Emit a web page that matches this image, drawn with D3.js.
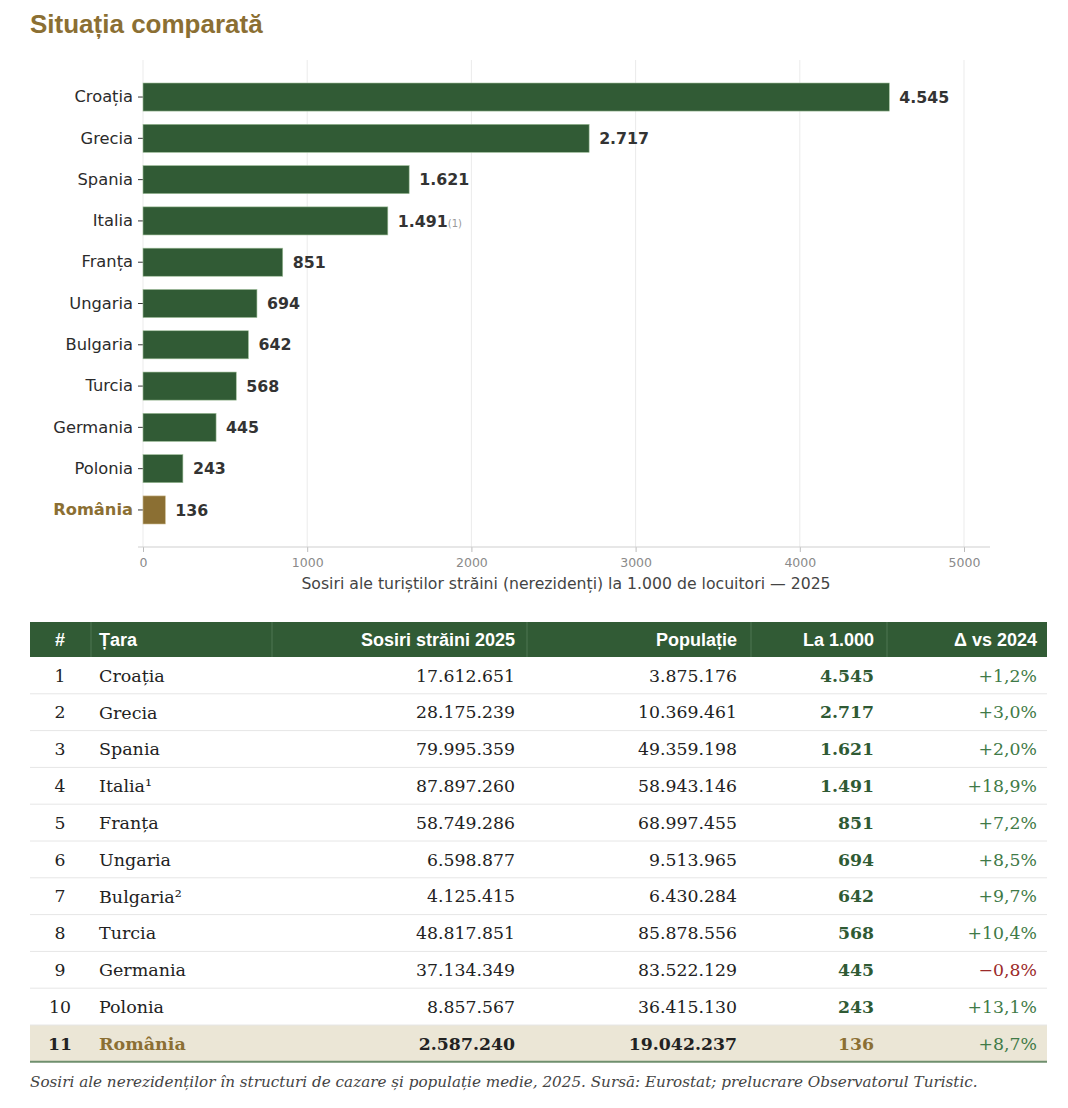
<!DOCTYPE html>
<html>
<head>
<meta charset="utf-8">
<script src="https://cdn.jsdelivr.net/npm/d3@7"></script>
<style>
  html, body { margin: 0; padding: 0; background: #fff; }
  svg { display: block; }
</style>
</head>
<body>
<svg id="chart" width="1068" height="1108"></svg>
<script>
// ---------- DATA ----------
const countries = ["Croația","Grecia","Spania","Italia","Franța","Ungaria","Bulgaria","Turcia","Germania","Polonia","România"];
const perThousand = [4545, 2717, 1621, 1491, 851, 694, 642, 568, 445, 243, 136];
const arrivals = [17612651, 28175239, 79995359, 87897260, 58749286, 6598877, 4125415, 48817851, 37134349, 8857567, 2587240];
const population = [3875176, 10369461, 49359198, 58943146, 68997455, 9513965, 6430284, 85878556, 83522129, 36415130, 19042237];
const changeVs2024 = [1.2, 3.0, 2.0, 18.9, 7.2, 8.5, 9.7, 10.4, -0.8, 13.1, 8.7];
const tableNotes = ["", "", "", "¹", "", "", "²", "", "", "", ""];
const chartNotes = ["", "", "", "(1)", "", "", "", "", "", "", ""];
const xTicks = [0, 1000, 2000, 3000, 4000, 5000];
const headers = ["#", "Țara", "Sosiri străini 2025", "Populație", "La 1.000", "Δ vs 2024"];
const highlight = "România";
const titleText = "Situația comparată";
const xLabel = "Sosiri ale turiștilor străini (nerezidenți) la 1.000 de locuitori — 2025";
const footText = "Sosiri ale nerezidenților în structuri de cazare și populație medie, 2025. Sursă: Eurostat; prelucrare Observatorul Turistic.";

// ---------- STYLE ----------
const GREEN = "#315b35", GOLD = "#8b6f33", GREEN_TXT = "#2f5a34", DELTA_G = "#3f7a47", RED = "#9b2a2a";
const ro = d3.formatLocale({decimal: ",", thousands: ".", grouping: [3], currency: ["", ""]});
const fmtInt = ro.format(",d");
const fmtPct = v => (v >= 0 ? "+" : "−") + ro.format(".1f")(Math.abs(v)) + "%";

const svg = d3.select("#chart");

// Title
svg.append("text").attr("x", 30).attr("y", 33)
  .attr("font-family", "Liberation Sans, Arial, sans-serif").attr("font-weight", "bold")
  .attr("font-size", 26).attr("fill", GOLD).text(titleText);

// ---------- BAR CHART ----------
const rows = countries.map((c, i) => ({c, v: perThousand[i], note: chartNotes[i]}));
const x = d3.scaleLinear().domain([0, 5000]).range([143, 964]);
const y = d3.scaleBand().domain(countries).range([76.4, 530.6]).paddingInner(0.32).paddingOuter(0.16);
const axisY = 547;
const sansFont = "DejaVu Sans, sans-serif";

const g = svg.append("g");
// gridlines
g.selectAll("line.grid").data(xTicks).join("line")
  .attr("x1", d => x(d)).attr("x2", d => x(d)).attr("y1", 60).attr("y2", axisY)
  .attr("stroke", "#ebebeb").attr("stroke-width", 1);

// x-axis
const xAxis = g.append("g").attr("transform", `translate(0,${axisY})`)
  .call(d3.axisBottom(x).tickValues(xTicks).tickFormat(d3.format("d")).tickSize(5).tickPadding(6).tickSizeOuter(0));
xAxis.select(".domain").remove();
xAxis.append("line").attr("x1", 138).attr("x2", 990).attr("y1", 0).attr("y2", 0).attr("stroke", "#cfcfcf");
xAxis.selectAll(".tick line").attr("stroke", "#bdbdbd");
xAxis.selectAll(".tick text").attr("fill", "#8a8a8a").attr("font-size", 12.5).attr("font-family", sansFont);

g.append("text").attr("x", (138 + 990) / 2 + 2).attr("y", 589).attr("text-anchor", "middle")
  .attr("font-family", sansFont).attr("font-size", 15.7).attr("fill", "#444").text(xLabel);

// y-axis
const yAxis = g.append("g").attr("transform", "translate(143,0)")
  .call(d3.axisLeft(y).tickSize(5).tickPadding(5));
yAxis.select(".domain").remove();
yAxis.selectAll(".tick line").attr("stroke", "#333");
yAxis.selectAll(".tick text")
  .attr("font-family", sansFont).attr("font-size", 16.3)
  .attr("fill", d => d === highlight ? GOLD : "#2b2b2b")
  .attr("font-weight", d => d === highlight ? "bold" : "normal");

// bars
g.selectAll("rect.bar").data(rows).join("rect")
  .attr("x", x(0)).attr("y", d => y(d.c))
  .attr("width", d => x(d.v) - x(0)).attr("height", y.bandwidth())
  .attr("fill", d => d.c === highlight ? GOLD : GREEN)
  .attr("stroke", d => d.c === highlight ? "#cbb98e" : "#9fbf9a").attr("stroke-width", 0.6);

// value labels
const vl = g.selectAll("text.val").data(rows).join("text")
  .attr("x", d => x(d.v) + 10).attr("y", d => y(d.c) + y.bandwidth() / 2)
  .attr("dy", "0.36em").attr("font-family", sansFont).attr("font-weight", "bold")
  .attr("font-size", 15.8).attr("fill", "#333");
vl.append("tspan").text(d => fmtInt(d.v));
vl.filter(d => d.note).append("tspan").attr("font-size", 10).attr("font-weight", "normal")
  .attr("fill", "#999").text(d => d.note);

// ---------- TABLE ----------
const colEdges = [30, 91, 272, 527, 751, 887, 1047];
const headTop = 622, headH = 35, rowH = 36.8;
const tRows = countries.map((c, i) => ({
  rank: i + 1, c, note: tableNotes[i], arr: arrivals[i], pop: population[i], per: perThousand[i], ch: changeVs2024[i]
}));
const rowY = d3.scaleBand().domain(tRows.map(d => d.rank)).range([headTop + headH, headTop + headH + rowH * tRows.length]);

const T = svg.append("g");
T.append("rect").attr("x", colEdges[0]).attr("y", headTop).attr("width", colEdges[6] - colEdges[0]).attr("height", headH).attr("fill", GREEN);
T.selectAll("line.hdiv").data(colEdges.slice(1, 6)).join("line")
  .attr("x1", d => d).attr("x2", d => d).attr("y1", headTop).attr("y2", headTop + headH)
  .attr("stroke", "#4f7753").attr("stroke-width", 1);

// column text positions/anchors
const cols = [
  {x: 60, anchor: "middle"},
  {x: 99, anchor: "start"},
  {x: 515, anchor: "end"},
  {x: 737, anchor: "end"},
  {x: 874, anchor: "end"},
  {x: 1037, anchor: "end"}
];
T.selectAll("text.head").data(headers).join("text")
  .attr("x", (d, i) => cols[i].x).attr("y", headTop + headH / 2).attr("dy", "0.36em")
  .attr("text-anchor", (d, i) => cols[i].anchor)
  .attr("font-family", "Liberation Sans, Arial, sans-serif").attr("font-weight", "bold")
  .attr("font-size", 18).attr("fill", "#fff").text(d => d);

// highlight row background
const hi = tRows.find(d => d.c === highlight);
T.append("rect").attr("x", colEdges[0]).attr("y", rowY(hi.rank)).attr("width", colEdges[6] - colEdges[0])
  .attr("height", rowH).attr("fill", "#ebe6d6");

// row separators
T.selectAll("line.sep").data(tRows.slice(0, -1)).join("line")
  .attr("x1", colEdges[0]).attr("x2", colEdges[6])
  .attr("y1", d => rowY(d.rank) + rowH).attr("y2", d => rowY(d.rank) + rowH)
  .attr("stroke", "#e6e6e6").attr("stroke-width", 1);
T.append("line").attr("x1", colEdges[0]).attr("x2", colEdges[6])
  .attr("y1", rowY(hi.rank) + rowH).attr("y2", rowY(hi.rank) + rowH)
  .attr("stroke", "#6f8f6e").attr("stroke-width", 2);

const serif = "DejaVu Serif, Georgia, serif";
const rowG = T.selectAll("g.row").data(tRows).join("g")
  .attr("transform", d => `translate(0,${rowY(d.rank) + rowH / 2})`);
const isHi = d => d.c === highlight;
function cell(idx, textFn, fill, weight) {
  return rowG.append("text").attr("x", cols[idx].x).attr("dy", "0.36em")
    .attr("text-anchor", cols[idx].anchor).attr("font-family", serif).attr("font-size", 17.3)
    .attr("fill", fill).attr("font-weight", weight).text(textFn);
}
cell(0, d => d.rank, "#222", d => isHi(d) ? "bold" : "normal");
const nameT = rowG.append("text").attr("x", cols[1].x).attr("dy", "0.36em")
  .attr("font-family", serif).attr("font-size", 17.5)
  .attr("fill", d => isHi(d) ? GOLD : "#222").attr("font-weight", d => isHi(d) ? "bold" : "normal");
nameT.append("tspan").text(d => d.c);
nameT.append("tspan").text(d => d.note);
cell(2, d => fmtInt(d.arr), "#222", d => isHi(d) ? "bold" : "normal");
cell(3, d => fmtInt(d.pop), "#222", d => isHi(d) ? "bold" : "normal");
cell(4, d => fmtInt(d.per), d => isHi(d) ? GOLD : GREEN_TXT, "bold");
cell(5, d => fmtPct(d.ch), d => d.ch < 0 ? RED : DELTA_G, "normal");

// footnote
svg.append("text").attr("x", 30).attr("y", 1087)
  .attr("font-family", serif).attr("font-style", "italic").attr("font-size", 15.2)
  .attr("fill", "#444").text(footText);
</script>
</body>
</html>
